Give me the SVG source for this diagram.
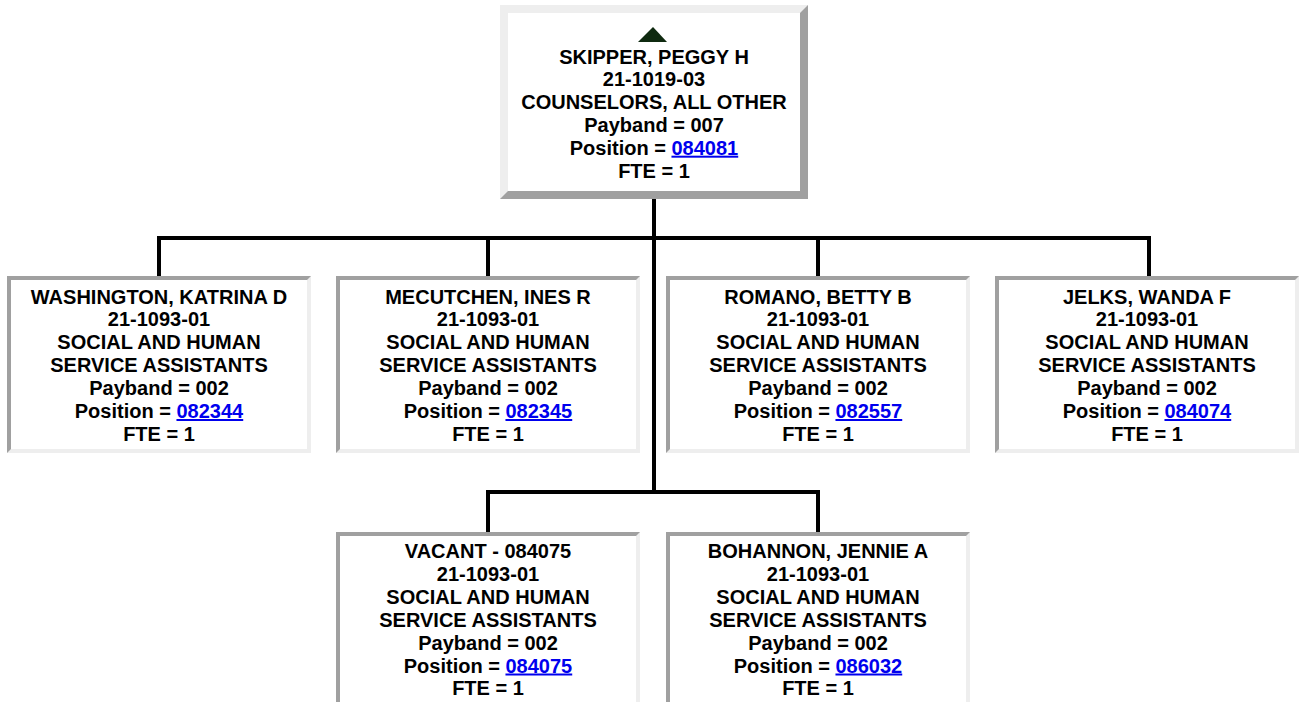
<svg xmlns="http://www.w3.org/2000/svg" width="1299" height="702" viewBox="0 0 1299 702">
<style>
.t{font-family:"Liberation Sans",Arial,sans-serif;font-weight:bold;font-size:20px;fill:#000;text-anchor:middle}
.lk{fill:#0000ee;text-decoration:underline}
.lt{fill:#eeeeee}
.dk{fill:#a0a0a0}
.in{fill:#ffffff}
.c{stroke:#000;stroke-width:4;fill:none;stroke-linecap:square}
</style>
<rect width="1299" height="702" fill="#ffffff"/>
<g id="connectors">
<path class="c" d="M654 199V492"/>
<path class="c" d="M159 238H1149M159 238V276M488 238V276M818 238V276M1149 238V276"/>
<path class="c" d="M488 492H818M488 492V532M818 492V532"/>
</g>
<g id="node-skipper">
<rect class="lt" x="500" y="5" width="308" height="194"/>
<polygon class="dk" points="808,5 808,199 500,199 508,191 800,191 800,13"/>
<rect class="in" x="508" y="13" width="292" height="178"/>
<polygon points="653,27 667,42 638,42" fill="#0f2a10"/>
<text class="t" x="654" y="63.5">SKIPPER, PEGGY H</text>
<text class="t" x="654" y="86.3">21-1019-03</text>
<text class="t" x="654" y="109.1">COUNSELORS, ALL OTHER</text>
<text class="t" x="654" y="131.9">Payband = 007</text>
<text class="t" x="654" y="154.7">Position = <tspan class="lk">084081</tspan></text>
<text class="t" x="654" y="177.5">FTE = 1</text>
</g>
<g id="node-washington">
<rect class="dk" x="7" y="276" width="304" height="177"/>
<polygon class="lt" points="311,276 311,453 7,453 11,449 307,449 307,280"/>
<rect class="in" x="11" y="280" width="296" height="169"/>
<text class="t" x="159" y="303.5">WASHINGTON, KATRINA D</text>
<text class="t" x="159" y="326.4">21-1093-01</text>
<text class="t" x="159" y="349.3">SOCIAL AND HUMAN</text>
<text class="t" x="159" y="372.2">SERVICE ASSISTANTS</text>
<text class="t" x="159" y="395.1">Payband = 002</text>
<text class="t" x="159" y="418">Position = <tspan class="lk">082344</tspan></text>
<text class="t" x="159" y="440.9">FTE = 1</text>
</g>
<g id="node-mecutchen">
<rect class="dk" x="336" y="276" width="304" height="177"/>
<polygon class="lt" points="640,276 640,453 336,453 340,449 636,449 636,280"/>
<rect class="in" x="340" y="280" width="296" height="169"/>
<text class="t" x="488" y="303.5">MECUTCHEN, INES R</text>
<text class="t" x="488" y="326.4">21-1093-01</text>
<text class="t" x="488" y="349.3">SOCIAL AND HUMAN</text>
<text class="t" x="488" y="372.2">SERVICE ASSISTANTS</text>
<text class="t" x="488" y="395.1">Payband = 002</text>
<text class="t" x="488" y="418">Position = <tspan class="lk">082345</tspan></text>
<text class="t" x="488" y="440.9">FTE = 1</text>
</g>
<g id="node-romano">
<rect class="dk" x="666" y="276" width="304" height="177"/>
<polygon class="lt" points="970,276 970,453 666,453 670,449 966,449 966,280"/>
<rect class="in" x="670" y="280" width="296" height="169"/>
<text class="t" x="818" y="303.5">ROMANO, BETTY B</text>
<text class="t" x="818" y="326.4">21-1093-01</text>
<text class="t" x="818" y="349.3">SOCIAL AND HUMAN</text>
<text class="t" x="818" y="372.2">SERVICE ASSISTANTS</text>
<text class="t" x="818" y="395.1">Payband = 002</text>
<text class="t" x="818" y="418">Position = <tspan class="lk">082557</tspan></text>
<text class="t" x="818" y="440.9">FTE = 1</text>
</g>
<g id="node-jelks">
<rect class="dk" x="995" y="276" width="304" height="177"/>
<polygon class="lt" points="1299,276 1299,453 995,453 999,449 1295,449 1295,280"/>
<rect class="in" x="999" y="280" width="296" height="169"/>
<text class="t" x="1147" y="303.5">JELKS, WANDA F</text>
<text class="t" x="1147" y="326.4">21-1093-01</text>
<text class="t" x="1147" y="349.3">SOCIAL AND HUMAN</text>
<text class="t" x="1147" y="372.2">SERVICE ASSISTANTS</text>
<text class="t" x="1147" y="395.1">Payband = 002</text>
<text class="t" x="1147" y="418">Position = <tspan class="lk">084074</tspan></text>
<text class="t" x="1147" y="440.9">FTE = 1</text>
</g>
<g id="node-vacant">
<rect class="dk" x="336" y="532" width="304" height="177"/>
<polygon class="lt" points="640,532 640,709 336,709 340,705 636,705 636,536"/>
<rect class="in" x="340" y="536" width="296" height="169"/>
<text class="t" x="488" y="558">VACANT - 084075</text>
<text class="t" x="488" y="580.9">21-1093-01</text>
<text class="t" x="488" y="603.8">SOCIAL AND HUMAN</text>
<text class="t" x="488" y="626.7">SERVICE ASSISTANTS</text>
<text class="t" x="488" y="649.6">Payband = 002</text>
<text class="t" x="488" y="672.5">Position = <tspan class="lk">084075</tspan></text>
<text class="t" x="488" y="695.4">FTE = 1</text>
</g>
<g id="node-bohannon">
<rect class="dk" x="666" y="532" width="304" height="177"/>
<polygon class="lt" points="970,532 970,709 666,709 670,705 966,705 966,536"/>
<rect class="in" x="670" y="536" width="296" height="169"/>
<text class="t" x="818" y="558">BOHANNON, JENNIE A</text>
<text class="t" x="818" y="580.9">21-1093-01</text>
<text class="t" x="818" y="603.8">SOCIAL AND HUMAN</text>
<text class="t" x="818" y="626.7">SERVICE ASSISTANTS</text>
<text class="t" x="818" y="649.6">Payband = 002</text>
<text class="t" x="818" y="672.5">Position = <tspan class="lk">086032</tspan></text>
<text class="t" x="818" y="695.4">FTE = 1</text>
</g>
</svg>
